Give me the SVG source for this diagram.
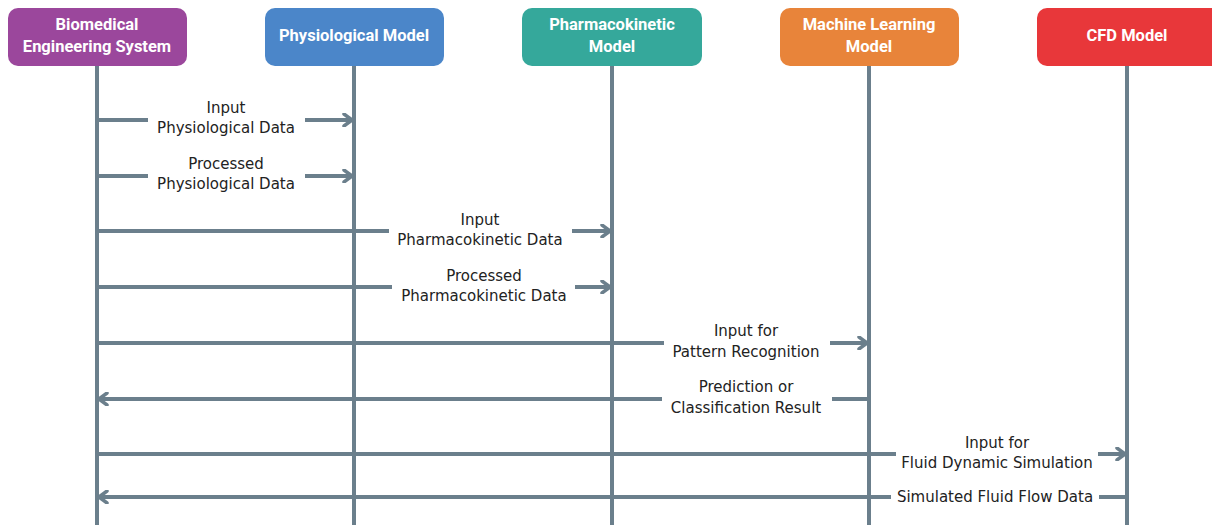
<svg xmlns="http://www.w3.org/2000/svg" width="1212" height="525" viewBox="0 0 1212 525">
<style>
.box{stroke:none}
.hd{font-family:Roboto,"Liberation Sans",sans-serif;font-weight:bold;font-size:16.5px;fill:#fff;text-anchor:middle}
.life{stroke:#6b7f8c;stroke-width:4;fill:none}
.msg{stroke:#6b7f8c;stroke-width:4;fill:none;stroke-linecap:butt}
.lb{font-family:"DejaVu Sans","Noto Sans",sans-serif;font-size:15px;fill:#222;text-anchor:middle}
.bg{fill:#fff}
</style>
<defs>
<marker id="ah" viewBox="0 0 12 14" refX="10" refY="7" markerWidth="12" markerHeight="14" markerUnits="userSpaceOnUse" orient="auto-start-reverse">
<path d="M2,1 L10,7 L2,13" fill="none" stroke="#6b7f8c" stroke-width="3.5" stroke-linecap="round" stroke-linejoin="round"/>
</marker>
</defs>
<rect width="1212" height="525" fill="#fff"/>
<g id="lifelines">
<line class="life" x1="97" y1="66" x2="97" y2="525"/>
<line class="life" x1="354" y1="66" x2="354" y2="525"/>
<line class="life" x1="612" y1="66" x2="612" y2="525"/>
<line class="life" x1="869" y1="66" x2="869" y2="525"/>
<line class="life" x1="1127" y1="66" x2="1127" y2="525"/>
</g>
<g id="n1"><rect class="box" x="8" y="8" width="179" height="58" rx="10" fill="#9b479c"/><text class="hd" x="97" y="30">Biomedical</text><text class="hd" x="97" y="52">Engineering System</text></g>
<g id="n2"><rect class="box" x="265" y="8" width="179" height="58" rx="10" fill="#4b86c9"/><text class="hd" x="354" y="41">Physiological Model</text></g>
<g id="n3"><rect class="box" x="522" y="8" width="180" height="58" rx="10" fill="#35a89b"/><text class="hd" x="612" y="30">Pharmacokinetic</text><text class="hd" x="612" y="52">Model</text></g>
<g id="n4"><rect class="box" x="780" y="8" width="179" height="58" rx="10" fill="#e8843a"/><text class="hd" x="869" y="30">Machine Learning</text><text class="hd" x="869" y="52">Model</text></g>
<g id="n5"><rect class="box" x="1037" y="8" width="185" height="58" rx="10" fill="#e8373a"/><text class="hd" x="1127" y="41">CFD Model</text></g>
<g id="connectors">
<line class="msg" x1="97" y1="120" x2="352" y2="120" marker-end="url(#ah)"/>
<line class="msg" x1="97" y1="176" x2="352" y2="176" marker-end="url(#ah)"/>
<line class="msg" x1="97" y1="231" x2="610" y2="231" marker-end="url(#ah)"/>
<line class="msg" x1="97" y1="287" x2="610" y2="287" marker-end="url(#ah)"/>
<line class="msg" x1="97" y1="343" x2="867" y2="343" marker-end="url(#ah)"/>
<line class="msg" x1="869" y1="399" x2="99" y2="399" marker-end="url(#ah)"/>
<line class="msg" x1="97" y1="454" x2="1125" y2="454" marker-end="url(#ah)"/>
<line class="msg" x1="1127" y1="497" x2="99" y2="497" marker-end="url(#ah)"/>
<rect class="bg" x="148" y="98" width="157" height="42"/>
<text class="lb" x="226" y="113">Input</text><text class="lb" x="226" y="133">Physiological Data</text>
<rect class="bg" x="148" y="154" width="157" height="42"/>
<text class="lb" x="226" y="169">Processed</text><text class="lb" x="226" y="189">Physiological Data</text>
<rect class="bg" x="389" y="209" width="183" height="42"/>
<text class="lb" x="480" y="225">Input</text><text class="lb" x="480" y="245">Pharmacokinetic Data</text>
<rect class="bg" x="392" y="265" width="183" height="42"/>
<text class="lb" x="484" y="281">Processed</text><text class="lb" x="484" y="301">Pharmacokinetic Data</text>
<rect class="bg" x="664" y="321" width="166" height="42"/>
<text class="lb" x="746" y="336">Input for</text><text class="lb" x="746" y="357">Pattern Recognition</text>
<rect class="bg" x="662" y="377" width="170" height="42"/>
<text class="lb" x="746" y="392">Prediction or</text><text class="lb" x="746" y="413">Classification Result</text>
<rect class="bg" x="896" y="432" width="202" height="42"/>
<text class="lb" x="997" y="448">Input for</text><text class="lb" x="997" y="468">Fluid Dynamic Simulation</text>
<rect class="bg" x="891" y="487" width="208" height="22"/>
<text class="lb" x="995" y="502">Simulated Fluid Flow Data</text>
</g>
</svg>
